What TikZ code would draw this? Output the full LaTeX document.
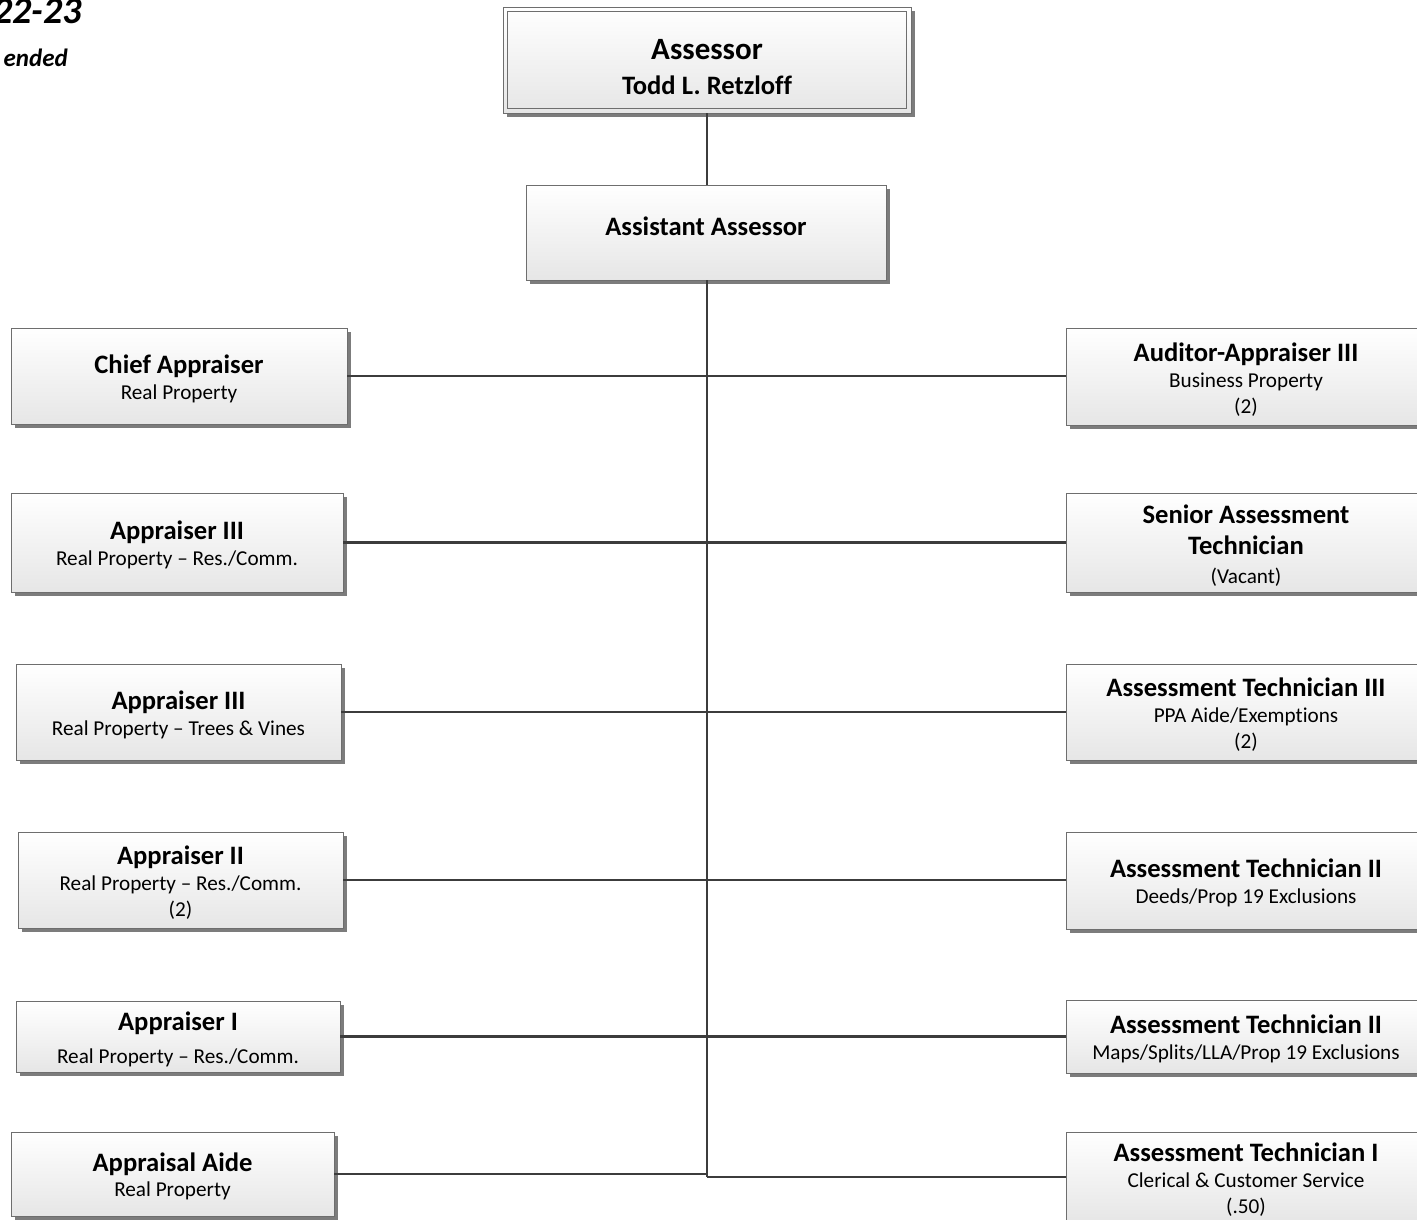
\documentclass[tikz,border=0pt]{standalone}
\usepackage{fontspec}
\setmainfont{Carlito}[Ligatures=NoCommon]
\usetikzlibrary{shadows}

\definecolor{linegray}{HTML}{3C3C3C}
\definecolor{edgegray}{HTML}{6E6E6E}
\definecolor{shadowgray}{HTML}{7C7C7C}
\definecolor{fillbottom}{HTML}{E6E6E6}

\tikzset{
  box/.style={rectangle, draw=edgegray, line width=0.9pt,
    top color=white, bottom color=fillbottom,
    drop shadow={shadow xshift=4pt, shadow yshift=-4pt, fill=shadowgray, opacity=1},
    inner sep=0pt, align=center, font=\fontsize{21.2}{26}\selectfont},
  link/.style={draw=linegray, line width=2.5pt},
  heading/.style={inner sep=0pt, anchor=base east},
}
% bold title line; \lead also lowers the text block a little
\newcommand\ttl[1]{{\bfseries\fontsize{26.6}{30}\selectfont #1}}
\newcommand\lead[1]{\rule{0pt}{24pt}\ttl{#1}}

\begin{document}
\begin{tikzpicture}[x=1pt,y=-1pt]
\useasboundingbox (0,0) rectangle (1417,1220);

% page heading, running off the left edge
\node[heading, font=\bfseries\itshape\fontsize{38}{42}\selectfont] (year) at (82,24) {22-23};
\node[heading, font=\bfseries\itshape\fontsize{25}{28}\selectfont] (status) at (68,67) {ended};

\coordinate (trunkend) at (707,1177);

\node[box, minimum width=408pt, minimum height=106pt] (assessor) at (707,60)
  {\rule{0pt}{35pt}{\bfseries\fontsize{31}{35}\selectfont Assessor}\\[9pt]\ttl{Todd L. Retzloff}};
\draw[edgegray, line width=0.9pt] ([shift={(5,5)}]assessor.north west) rectangle ([shift={(-5,-5)}]assessor.south east);

\node[box, minimum width=360pt, minimum height=95pt] (asst) at (706,232.5)
  {\ttl{Assistant Assessor}\rule[-12pt]{0pt}{12pt}};

% left column
\node[box, minimum width=336pt, minimum height=96pt] (chief) at (179,376) {\lead{Chief Appraiser}\\Real Property};
\node[box, minimum width=332pt, minimum height=99pt] (appIIIa) at (177,542.5) {\lead{Appraiser III}\\Real Property -- Res./Comm.};
\node[box, minimum width=325pt, minimum height=96pt] (appIIIb) at (178.5,712) {\lead{Appraiser III}\\Real Property -- Trees \& Vines};
\node[box, minimum width=325pt, minimum height=96pt] (appII) at (180.5,880) {\lead{Appraiser II}\\Real Property -- Res./Comm.\\(2)};
\node[box, minimum width=324pt, minimum height=71pt] (appI) at (178,1036.5) {\lead{Appraiser I}\\[7pt]Real Property -- Res./Comm.};
\node[box, minimum width=323pt, minimum height=84pt] (aide) at (172.5,1174) {\lead{Appraisal Aide}\\[-1pt]Real Property};

% right column
\node[box, minimum width=360pt, minimum height=97pt] (auditor) at (1246,376.5) {\lead{Auditor-Appraiser III}\\Business Property\\(2)};
\node[box, minimum width=360pt, minimum height=99pt] (senior) at (1246,542.5) {\lead{Senior Assessment}\\[5pt]\ttl{Technician}\\[3pt](Vacant)};
\node[box, minimum width=360pt, minimum height=96pt] (techIII) at (1246,712) {\lead{Assessment Technician III}\\PPA Aide/Exemptions\\(2)};
\node[box, minimum width=360pt, minimum height=97pt] (techIIa) at (1246,880.5) {\lead{Assessment Technician II}\\Deeds/Prop 19 Exclusions};
\node[box, minimum width=360pt, minimum height=73pt] (techIIb) at (1246,1036.5) {\lead{Assessment Technician II}\\Maps/Splits/LLA/Prop 19 Exclusions};
\node[box, minimum width=360pt, minimum height=90pt] (techI) at (1246,1177) {\lead{Assessment Technician I}\\Clerical \& Customer Service\\(.50)};

% reporting lines
\draw[link] (assessor.south) -- (assessor.south |- asst.north);
\draw[link] (asst.south -| trunkend) -- (trunkend);
\draw[link] (chief.east) -- (chief.east -| auditor.west);
\draw[link] (appIIIa.east) -- (appIIIa.east -| senior.west);
\draw[link] (appIIIb.east) -- (appIIIb.east -| techIII.west);
\draw[link] (appII.east) -- (appII.east -| techIIa.west);
\draw[link] (appI.east) -- (appI.east -| trunkend);
\draw[link] (trunkend |- techIIb.west) -- (techIIb.west);
\draw[link] (aide.east) -- (aide.east -| trunkend);
\draw[link] (trunkend) -- (trunkend -| techI.west);
\end{tikzpicture}
\end{document}
